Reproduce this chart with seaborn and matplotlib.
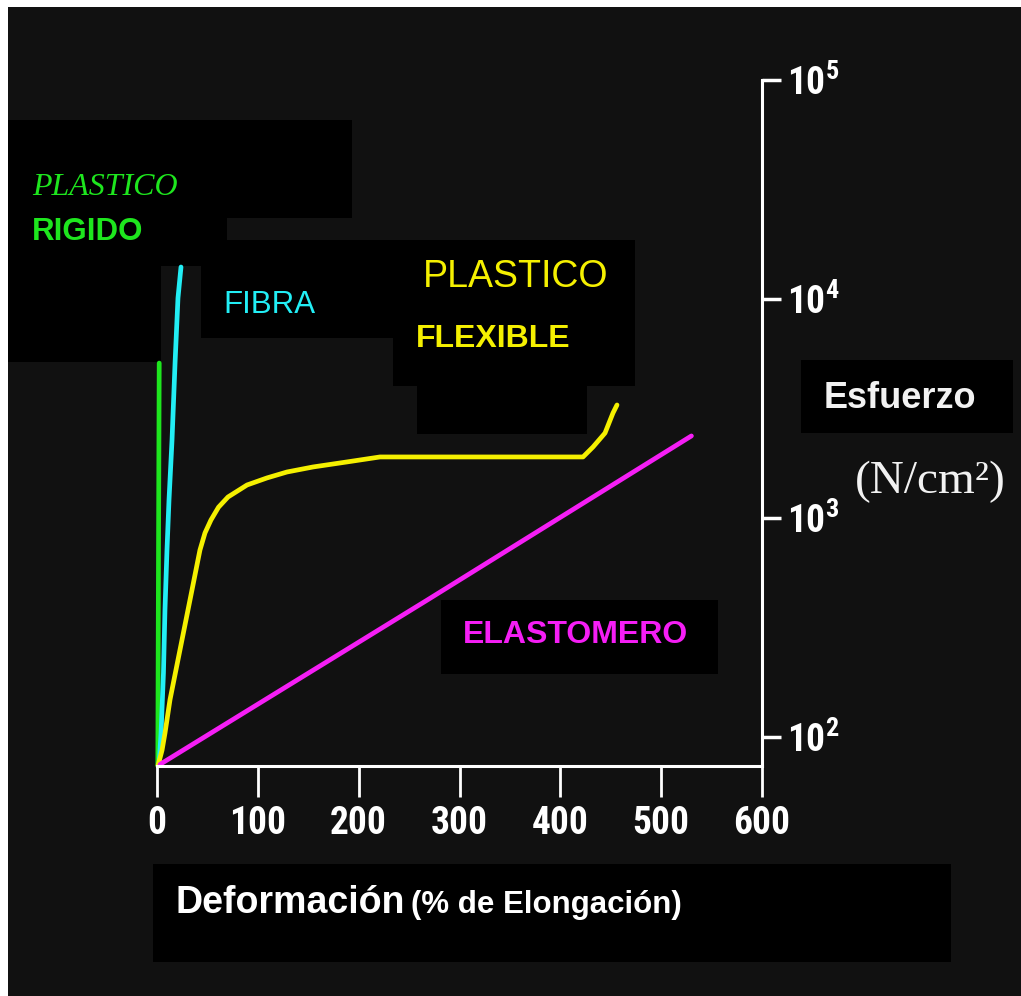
import numpy as np
import pandas as pd
import matplotlib
matplotlib.use("Agg")
import matplotlib.pyplot as plt
import seaborn as sns
from matplotlib import font_manager
from matplotlib.patches import Rectangle
from matplotlib.ticker import FixedLocator, FixedFormatter, NullLocator

# ---------------- data ----------------
rigido_x = [0.8, 1.5, 2.2]
rigido_y = [74, 700, 5100]

fibra_x = [2.0, 4.0, 6.4, 7.9, 9.9, 11.9, 14.9, 17.9, 20.8, 23.8]
fibra_y = [74, 104, 196, 380, 714, 1208, 2270, 5100, 10100, 14000]

flexible_x = [1.0, 5.0, 7.9, 12.9, 22.8, 32.7, 42.6, 47.6, 53.5, 61.0, 70.4, 89.3, 109.1,
              128.9, 154.7, 188.4, 221.2, 422.5, 432.4, 444.3, 452.2, 456.2]
flexible_y = [74, 87, 104, 148, 250, 422, 714, 855, 979, 1120, 1247, 1415, 1524,
              1622, 1710, 1803, 1900, 1900, 2110, 2443, 3015, 3282]

elastomero_x = [3, 268, 530]
elastomero_y = [75, 422, 2370]

x_ticks = [0, 100, 200, 300, 400, 500, 600]
x_tick_labels = ["0", "100", "200", "300", "400", "500", "600"]
y_ticks = [1e2, 1e3, 1e4, 1e5]
y_tick_labels = [r"$\mathregular{10^{2}}$", r"$\mathregular{10^{3}}$",
                 r"$\mathregular{10^{4}}$", r"$\mathregular{10^{5}}$"]

series_names = ["rigido", "fibra", "flexible", "elastomero"]
series_colors = ["#1ee61e", "#22eef5", "#f5f000", "#f51ef5"]

frames = []
for name, xs, ys in [("rigido", rigido_x, rigido_y),
                     ("fibra", fibra_x, fibra_y),
                     ("flexible", flexible_x, flexible_y),
                     ("elastomero", elastomero_x, elastomero_y)]:
    frames.append(pd.DataFrame({"x": xs, "y": ys, "serie": name}))
df = pd.concat(frames, ignore_index=True)

# ---------------- figure ----------------
sns.set_theme(style="ticks")
W, H = 1021, 996
BG = "#111111"
fig = plt.figure(figsize=(W / 100, H / 100), dpi=100, facecolor=BG)

installed = {f.name for f in font_manager.fontManager.ttflist}
narrow = next((n for n in ["Liberation Sans Narrow", "Roboto Condensed",
                           "Open Sans Condensed", "DejaVu Sans Condensed"]
               if n in installed), "Liberation Sans")


def px_rect(x0, y0, x1, y1, color):
    fig.patches.append(Rectangle((x0 / W, 1 - y1 / H), (x1 - x0) / W, (y1 - y0) / H,
                                 transform=fig.transFigure, facecolor=color,
                                 edgecolor="none", zorder=-5))


# white frame on top and left
px_rect(0, 0, W, 7, "white")
px_rect(0, 0, 8, H, "white")

# black label boxes
for (a, b, c, d) in [(8, 120, 352, 218), (8, 218, 227, 240), (8, 240, 635, 266),
                     (8, 266, 161, 362), (201, 266, 635, 338), (393, 338, 635, 386),
                     (417, 386, 587, 434), (801, 360, 1013, 433), (441, 600, 718, 674),
                     (153, 864, 951, 962)]:
    px_rect(a, b, c, d, "black")

ax = fig.add_axes([157 / W, 1 - 766 / H, (762 - 157) / W, (766 - 80) / H])
ax.set_facecolor("none")

sns.lineplot(data=df, x="x", y="y", hue="serie", hue_order=series_names,
             palette=series_colors, sort=False, estimator=None, units="serie",
             linewidth=3.4, legend=False, ax=ax, clip_on=False)

ax.set_yscale("log")
ax.set_xlim(0, 600)
ax.set_ylim(10 ** (2 - 29 / 219), 1e5)

for s in ["left", "top"]:
    ax.spines[s].set_visible(False)
for s in ["bottom", "right"]:
    ax.spines[s].set_color("white")
    ax.spines[s].set_linewidth(2.2)

ax.xaxis.set_major_locator(FixedLocator(x_ticks))
ax.xaxis.set_major_formatter(FixedFormatter(x_tick_labels))
ax.xaxis.set_minor_locator(NullLocator())
ax.yaxis.set_major_locator(FixedLocator(y_ticks))
ax.yaxis.set_major_formatter(FixedFormatter(y_tick_labels))
ax.yaxis.set_minor_locator(NullLocator())
ax.yaxis.tick_right()

ax.tick_params(axis="x", direction="out", length=22, width=2, color="white",
               pad=6, labelcolor="white", labelsize=27)
ax.tick_params(axis="y", direction="out", length=14, width=2.5, color="white",
               pad=4, labelcolor="white", labelsize=27, right=True, left=False)
for lab in ax.get_xticklabels() + ax.get_yticklabels():
    lab.set_fontfamily([narrow, "Liberation Sans", "DejaVu Sans"])
    lab.set_fontweight("bold")
ax.set_xlabel("")
ax.set_ylabel("")


def px_text(x, y, s, **kw):
    fig.text(x / W, 1 - y / H, s, **kw)


sans = ["Liberation Sans", "DejaVu Sans"]
serif = ["Liberation Serif", "DejaVu Serif"]

px_text(32, 195, "PLASTICO", color="#1ee61e", fontsize=23, family=serif,
        style="italic", va="baseline")
px_text(32, 240, "RIGIDO", color="#1ee61e", fontsize=22.5, family=sans,
        weight="bold", va="baseline")
px_text(223, 313, "FIBRA", color="#22eef5", fontsize=22.5, family=sans, va="baseline")
px_text(423, 287, "PLASTICO", color="#f5f000", fontsize=27, family=sans, va="baseline")
px_text(416, 347, "FLEXIBLE", color="#f5f000", fontsize=23, family=sans,
        weight="bold", va="baseline")
px_text(463, 643, "ELASTOMERO", color="#f51ef5", fontsize=23, family=sans,
        weight="bold", va="baseline")
px_text(824, 408, "Esfuerzo", color="#f2f2f2", fontsize=26, family=sans,
        weight="bold", va="baseline")
px_text(930, 482, "(N/cm²)", color="#f2f2f2", fontsize=34, family=serif,
        ha="center", va="center")
px_text(176, 913, "Deformación", color="white", fontsize=27, family=sans,
        weight="bold", va="baseline")
px_text(411, 913, "(% de Elongación)", color="white", fontsize=22.5, family=sans,
        weight="bold", va="baseline")

fig.savefig("out.png", dpi=100, facecolor=BG)
